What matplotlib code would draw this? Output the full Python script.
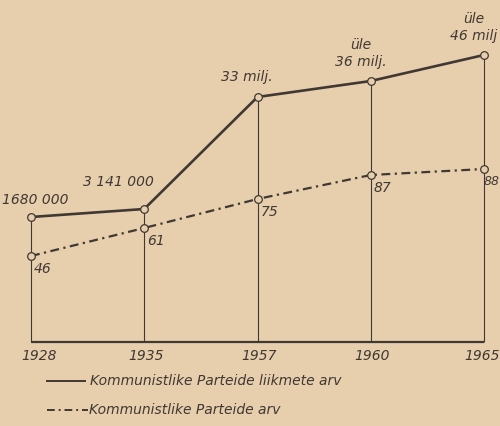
# import packages
import matplotlib.pyplot as plt
from matplotlib.lines import Line2D

# data (heights are the drawn levels above the baseline, in px)
years = ['1928', '1935', '1957', '1960', '1965']
members_level = [125, 133, 245, 261, 287]
members_labels = ['1680 000', '3 141 000', '33 milj.', 'üle\n36 milj.', 'üle\n46 milj']
parties_count = [46, 61, 75, 87, 88]
parties_level = [86, 114, 143, 167, 173]
legend_labels = ['Kommunistlike Parteide liikmete arv', 'Kommunistlike Parteide arv']

# styles
bg = '#e7cfae'
ink = '#403832'
font = dict(family='DejaVu Sans', style='italic', color=ink)

fig = plt.figure(figsize=(5, 4.26), dpi=100, facecolor=bg)
ax = fig.add_axes([31 / 500, 84 / 426, 453 / 500, 342 / 426])
ax.set_facecolor(bg)
ax.set_xlim(0, 4)
ax.set_ylim(0, 342)
ax.axis('off')

x = list(range(len(years)))

# vertical guide lines and baseline
ax.vlines(x, 0, members_level, color=ink, lw=0.8, clip_on=False)
ax.hlines(0, 0, 4, color=ink, lw=1.6, clip_on=False)

# members line
ax.plot(x, members_level, color=ink, lw=1.9, marker='o', ms=5.5,
        mfc=bg, mec=ink, mew=0.9, clip_on=False, zorder=3)
# parties line
ax.plot(x, parties_level, color=ink, lw=1.6, ls=(0, (4, 2, 1, 2)), marker='o',
        ms=5.5, mfc=bg, mec=ink, mew=0.9, clip_on=False, zorder=3)

# member labels
offsets = [(4, 10), (-26, 20), (-11, 13), (-10, 12), (-10, 12)]
for xi, lvl, lab, (dx, dy) in zip(x, members_level, members_labels, offsets):
    ax.annotate(lab, (xi, lvl), xytext=(dx, dy), textcoords='offset pixels',
                ha='center', va='bottom', fontsize=10, linespacing=1.3, **font)

# party labels
party_dx = [3, 3, 3, 3, 0]
party_fs = [10, 10, 10, 10, 9]
for xi, lvl, val, dx, fs in zip(x, parties_level, parties_count, party_dx, party_fs):
    ax.annotate(str(val), (xi, lvl), xytext=(dx, -6), textcoords='offset pixels',
                ha='left', va='top', fontsize=fs, **font)

# year labels
year_dx = [8, 2, 2, 1, -2]
for xi, yr, dx in zip(x, years, year_dx):
    ax.annotate(yr, (xi, 0), xytext=(dx, -7), textcoords='offset pixels',
                ha='center', va='top', fontsize=10, **font)

# legend drawn by hand
fig.add_artist(Line2D([47 / 500, 85 / 500], [1 - 381 / 426] * 2, color=ink, lw=1.4))
fig.text(90 / 500, 1 - 381 / 426, legend_labels[0], va='center', fontsize=10, **font)
fig.add_artist(Line2D([47 / 500, 88 / 500], [1 - 410 / 426] * 2, color=ink, lw=1.4,
                      ls=(0, (4, 2, 1, 2))))
fig.text(89 / 500, 1 - 410 / 426, legend_labels[1], va='center', fontsize=10, **font)

fig.savefig('out.png', dpi=100, facecolor=bg)
